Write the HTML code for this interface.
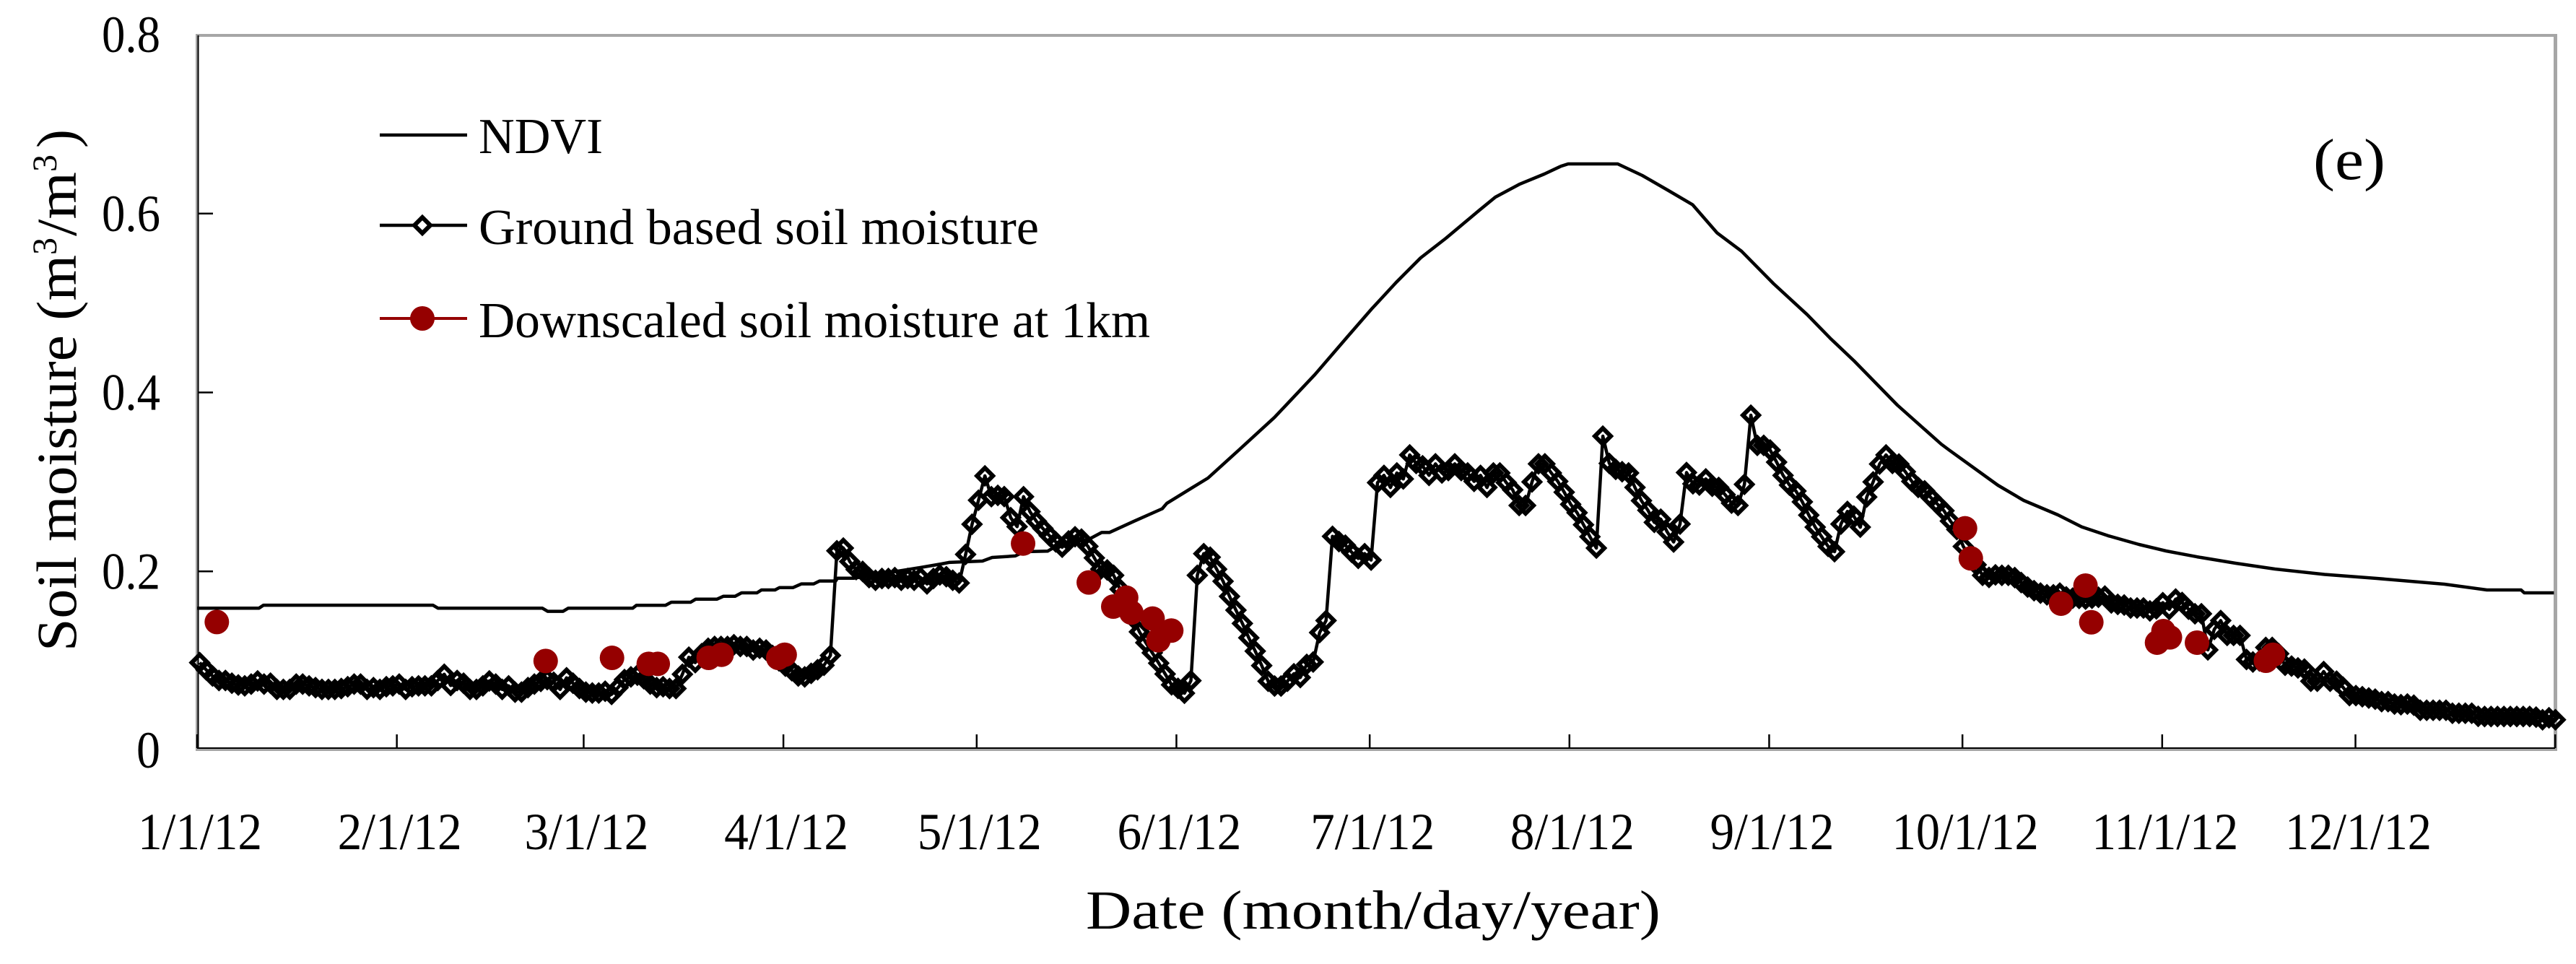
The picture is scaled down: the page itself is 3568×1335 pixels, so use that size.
<!DOCTYPE html>
<html lang="en">
<head>
<meta charset="utf-8">
<title>Soil moisture chart (e)</title>
<style>
  html, body { margin: 0; padding: 0; background: #fff; }
  svg { display: block; }
  text { font-family: "Liberation Serif", "DejaVu Serif", serif; fill: #000; }
</style>
</head>
<body>
<svg id="chart" xmlns="http://www.w3.org/2000/svg" width="3568" height="1335" viewBox="0 0 3568 1335">
  <rect x="0" y="0" width="3568" height="1335" fill="#fff"/>
  <g id="axes">
    <rect x="271" y="47" width="3271" height="4" fill="#a6a6a6"/>
    <rect x="3537" y="47" width="5" height="993" fill="#a6a6a6"/>
    <rect x="271" y="47" width="2.5" height="993" fill="#a6a6a6"/>
    <rect x="273.5" y="49" width="2" height="988" fill="#000"/>
    <rect x="271" y="1037" width="3271" height="3" fill="#a6a6a6"/>
    <rect x="273" y="1035" width="3266" height="2" fill="#000"/>
  </g>
  <g id="ticks"></g>
  <g id="tick-labels" font-size="72"></g>
  <g id="series-ndvi"></g>
  <g id="series-ground"></g>
  <g id="series-downscaled"></g>

  <g>
    <line x1="526" y1="187" x2="647" y2="187" stroke="#000" stroke-width="4.5"/>
    <text x="663" y="212" font-size="70" textLength="172" lengthAdjust="spacingAndGlyphs">NDVI</text>
    <line x1="526" y1="312" x2="647" y2="312" stroke="#000" stroke-width="4.5"/>
    <path d="M585 301 L596 312 L585 323 L574 312 Z" fill="#fff" stroke="#000" stroke-width="6"/>
    <text x="663" y="338" font-size="70" textLength="776" lengthAdjust="spacingAndGlyphs">Ground based soil moisture</text>
    <line x1="526" y1="441" x2="647" y2="441" stroke="#950000" stroke-width="4"/>
    <circle cx="585" cy="441" r="17" fill="#950000"/>
    <text x="663" y="467" font-size="70" textLength="930" lengthAdjust="spacingAndGlyphs">Downscaled soil moisture at 1km</text>
  </g>

  <text x="3204" y="248" font-size="80" textLength="100" lengthAdjust="spacingAndGlyphs">(e)</text>
  <text x="1504" y="1286" font-size="76" textLength="796" lengthAdjust="spacingAndGlyphs">Date (month/day/year)</text>
  <g transform="rotate(-90)">
    <text x="-902" y="105" font-size="78" textLength="549" lengthAdjust="spacingAndGlyphs">Soil moisture (m</text>
    <text x="-353" y="78" font-size="48">3</text>
    <text x="-327" y="105" font-size="78" textLength="89" lengthAdjust="spacingAndGlyphs">/m</text>
    <text x="-238" y="78" font-size="48">3</text>
    <text x="-205" y="105" font-size="78">)</text>
  </g>
</svg>
<script>
// ----- chart data -----
const xTickDays = [0, 31, 60, 91, 121, 152, 182, 213, 244, 274, 305, 335, 366];
const xTickLabels = ["1/1/12", "2/1/12", "3/1/12", "4/1/12", "5/1/12", "6/1/12", "7/1/12", "8/1/12", "9/1/12", "10/1/12", "11/1/12", "12/1/12", ""];
const yTickValues = [0, 0.2, 0.4, 0.6, 0.8];
const yTickLabels = ["0", "0.2", "0.4", "0.6", "0.8"];

const ndviDays = [0, 9.6, 10.3, 36.6, 37.4, 53.6, 54.4, 56.8, 57.6, 67.6, 68.2, 72.7, 73.6, 76.6, 77.4, 80.7, 81.7, 83.5, 84.5, 86.9, 87.6, 89.7, 90.4, 92.5, 93.8, 95.7, 96.6, 99.1, 99.4, 102, 112, 115.5, 116.7, 121.9, 123.4, 127, 128.4, 132, 133.9, 138.4, 140.4, 141.6, 145.4, 149.8, 150.5, 154.9, 156.9, 161.6, 167.2, 173.5, 178.5, 182.3, 186.1, 189.9, 193.8, 198.9, 201.5, 205.3, 209.1, 211.7, 212.8, 220.5, 224.3, 228.3, 232.1, 235.9, 239.7, 244.7, 249.9, 253.5, 257.2, 263.9, 270.7, 271.9, 279.5, 283.5, 288.8, 292.5, 296.6, 301.4, 305.6, 310.4, 316.4, 322.5, 330.2, 338.3, 348.8, 355.4, 360.7, 361.2, 365.8];
const ndviValues = [.1588, .1588, .1622, .1622, .1588, .1588, .1553, .1553, .1588, .1588, .1621, .1621, .1655, .1655, .169, .169, .1722, .1722, .176, .176, .1792, .1792, .1819, .1819, .186, .186, .1892, .1892, .1924, .1924, .204, .2083, .21, .2115, .2155, .2172, .222, .2226, .2305, .2358, .2435, .2435, .256, .27, .276, .2955, .3043, .335, .372, .42, .4618, .4933, .523, .5505, .5723, .603, .6184, .633, .6442, .653, .6555, .6555, .6426, .626, .61, .5785, .558, .5215, .487, .4605, .4351, .3859, .3423, .3358, .2963, .2793, .2632, .2498, .2398, .2301, .2228, .2163, .2091, .2026, .1966, .1921, .1857, .1792, .1792, .176, .176];

const groundValues = [
  .098,.090,.083,.078,.078,.075,.073,.072,.074,.0775,
  .074,.075,.068,.068,.068,.074,.074,.072,.070,.068,
  .068,.068,.069,.071,.074,.074,.068,.070,.068,.071,
  .072,.074,.068,.071,.072,.072,.072,.078,.085,.0724,
  .078,.075,.068,.068,.072,.0775,.074,.068,.072,.065,
  .065,.070,.074,.077,.079,.076,.068,.081,.075,.069,
  .065,.064,.064,.066,.0625,.070,.079,.082,.084,.080,
  .074,.070,.071,.069,.069,.085,.104,.098,.108,.114,
  .116,.116,.116,.118,.116,.116,.112,.114,.112,.106,
  .100,.094,.089,.083,.082,.086,.090,.095,.106,.223,
  .226,.211,.202,.200,.193,.190,.192,.192,.193,.190,
  .192,.190,.193,.186,.192,.196,.194,.190,.187,.219,
  .2527,.2795,.3068,.2835,.285,.2836,.260,.250,.2835,.2667,
  .256,.248,.240,.233,.227,.234,.2387,.236,.228,.215,
  .2025,.2016,.1956,.180,.164,.148,.1324,.1203,.109,.0974,
  .0853,.0732,.0692,.0638,.0778,.1956,.2198,.2158,.2024,.1889,
  .172,.1566,.1418,.1257,.1108,.0947,.0772,.0718,.0718,.0772,
  .0855,.0813,.096,.0987,.1316,.145,.2392,.2333,.2293,.2212,
  .2145,.2198,.2126,.2992,.3073,.2938,.31,.3033,.3302,.3207,
  .318,.3073,.3202,.31,.3127,.3202,.3127,.31,.3006,.3073,
  .2938,.31,.31,.2992,.2911,.2737,.2737,.30,.3202,.3202,
  .31,.3006,.2885,.275,.2656,.2521,.2387,.226,.3512,.3207,
  .314,.3114,.31,.2938,.279,.2683,.2548,.2583,.2441,.2328,
  .2529,.3105,.2979,.2965,.3033,.2952,.2938,.2858,.2763,.2737,
  .2973,.3746,.3409,.3409,.3356,.3221,.3073,.2965,.2898,.2777,
  .2629,.2494,.2387,.2279,.222,.2529,.267,.2618,.2494,.2831,
  .30,.32,.3302,.3207,.32,.3114,.3006,.2938,.29,.2823,
  .2751,.2678,.2562,.2468,.2279,.2172,.2074,.1956,.1932,.1961,
  .1956,.1956,.193,.1875,.1824,.1784,.1757,.1738,.1738,.1757,
  .1714,.170,.1698,.169,.170,.171,.1724,.1647,.1631,.1624,
  .159,.159,.159,.1558,.1581,.165,.1574,.169,.1652,.1577,
  .1526,.1526,.1122,.1351,.145,.1284,.1284,.1284,.1015,.0987,
  .100,.1149,.1149,.108,.095,.0941,.092,.0907,.0772,.0772,
  .088,.0772,.0772,.0705,.0611,.0611,.0598,.0584,.0571,.0544,
  .0544,.0517,.051,.0517,.0504,.0447,.0447,.0447,.0447,.0447,
  .0414,.0414,.0414,.0414,.0379,.0377,.0377,.0377,.0377,.0377,
  .0377,.0377,.0377,.037,.0341,.0363,.0341
];

const downscaledDays = [3.06, 54.1, 64.4, 70.1, 71.5, 79.4, 81.4, 90.2, 91.2, 128.2, 138.4, 142.2, 144.2, 145, 148.3, 149.2, 151.2, 274.4, 275.3, 289.3, 293.1, 294, 304.2, 305.2, 306.2, 310.4, 321.1, 322.2];
const downscaledValues = [.1434, .0998, .1033, .0966, .0966, .1033, .1068, .1033, .1068, .2311, .1876, .1606, .1706, .1539, .1472, .123, .1338, .2481, .2145, .1639, .1841, .1431, .1203, .1332, .1262, .1203, .1001, .1068];

// ----- axis functions -----
const SVG_NS = "http://www.w3.org/2000/svg";
function xScale(day) { return 273 + 8.924 * day; }
function yScale(v) { return 1039 - v * 1238.75; }
function groundDay(i) { return 0.4 + i * 0.999; }

// ----- ticks -----
const tickGroup = document.getElementById("ticks");
const labelGroup = document.getElementById("tick-labels");
xTickDays.forEach(function (day, i) {
  const t = document.createElementNS(SVG_NS, "line");
  
  
  t.setAttribute("x1", xScale(day));
  t.setAttribute("x2", xScale(day));
  t.setAttribute("y1", 1017);
  t.setAttribute("y2", 1036);
  t.setAttribute("stroke", "#000");
  t.setAttribute("stroke-width", 2.5);
  tickGroup.appendChild(t);
  if (xTickLabels[i]) {
    const l = document.createElementNS(SVG_NS, "text");
    
    
    l.setAttribute("x", xScale(day) + 4);
    l.setAttribute("y", 1176);
    l.setAttribute("text-anchor", "middle");
    l.setAttribute("textLength", xTickLabels[i].length > 6 ? 203 : 172);
    l.setAttribute("lengthAdjust", "spacingAndGlyphs");
    l.textContent = xTickLabels[i];
    labelGroup.appendChild(l);
  }
});
yTickValues.forEach(function (v, i) {
  if (v > 0 && v < 0.8) {
    const t = document.createElementNS(SVG_NS, "line");
    
    
    t.setAttribute("x1", 274);
    t.setAttribute("x2", 295);
    t.setAttribute("y1", yScale(v));
    t.setAttribute("y2", yScale(v));
    t.setAttribute("stroke", "#000");
    t.setAttribute("stroke-width", 2.5);
    tickGroup.appendChild(t);
  }
  const l = document.createElementNS(SVG_NS, "text");
  
  
  l.setAttribute("x", 222);
  l.setAttribute("y", yScale(v) + 24);
  l.setAttribute("text-anchor", "end");
  l.setAttribute("textLength", yTickLabels[i].length > 1 ? 81 : 33);
  l.setAttribute("lengthAdjust", "spacingAndGlyphs");
  l.textContent = yTickLabels[i];
  labelGroup.appendChild(l);
});

// ----- NDVI line -----
const ndviLine = document.createElementNS(SVG_NS, "polyline");


ndviLine.setAttribute("points", ndviDays.map(function (d, i) {
  return xScale(d).toFixed(1) + "," + yScale(ndviValues[i]).toFixed(1);
}).join(" "));
ndviLine.setAttribute("fill", "none");
ndviLine.setAttribute("stroke", "#000");
ndviLine.setAttribute("stroke-width", 4.5);
ndviLine.setAttribute("stroke-linejoin", "round");
document.getElementById("series-ndvi").appendChild(ndviLine);

// ----- Ground based line and diamonds -----
const groundGroup = document.getElementById("series-ground");
const groundLine = document.createElementNS(SVG_NS, "polyline");


groundLine.setAttribute("points", groundValues.map(function (v, i) {
  return xScale(groundDay(i)).toFixed(1) + "," + yScale(v).toFixed(1);
}).join(" "));
groundLine.setAttribute("fill", "none");
groundLine.setAttribute("stroke", "#000");
groundLine.setAttribute("stroke-width", 4.5);
groundLine.setAttribute("stroke-linejoin", "round");
groundGroup.appendChild(groundLine);
groundValues.forEach(function (v, i) {
  const cx = xScale(groundDay(i));
  const cy = yScale(v);
  const r = 11;
  const p = document.createElementNS(SVG_NS, "path");
  
  
  p.setAttribute("d", "M" + cx + " " + (cy - r) + " L" + (cx + r) + " " + cy + " L" + cx + " " + (cy + r) + " L" + (cx - r) + " " + cy + " Z");
  p.setAttribute("fill", "none");
  p.setAttribute("stroke", "#000");
  p.setAttribute("stroke-width", 6);
  groundGroup.appendChild(p);
});

// ----- Downscaled points -----
const downGroup = document.getElementById("series-downscaled");
downscaledDays.forEach(function (d, i) {
  const c = document.createElementNS(SVG_NS, "circle");
  
  
  c.setAttribute("cx", xScale(d));
  c.setAttribute("cy", yScale(downscaledValues[i]));
  c.setAttribute("r", 17);
  c.setAttribute("fill", "#950000");
  downGroup.appendChild(c);
});
</script>
</body>
</html>
